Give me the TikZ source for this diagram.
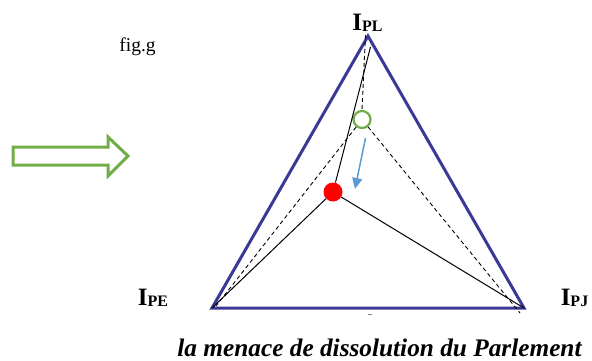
\documentclass[tikz,border=0pt]{standalone}
\usepackage{fontspec}
\setmainfont{Liberation Serif}
\usetikzlibrary{arrows.meta}
\definecolor{navy}{RGB}{58,58,150}
\definecolor{grn}{RGB}{112,173,71}
\definecolor{skyb}{RGB}{91,155,213}
\definecolor{rdot}{RGB}{255,0,0}
\tikzset{
  tri/.style={draw=navy,line width=3pt,line join=miter},
  dline/.style={draw=black,dashed,line width=0.9pt,dash pattern=on 4pt off 3pt},
  sline/.style={draw=black,line width=1pt},
  lbl/.style={anchor=base,inner sep=0pt,font=\fontsize{25}{27}\selectfont\bfseries},
}
\newcommand{\sub}[1]{\raisebox{-1.5pt}{\fontsize{16}{18}\selectfont #1}}
\begin{document}
\begin{tikzpicture}[x=1pt,y=-1pt]
\useasboundingbox (0,0) rectangle (592,360);
% corners
\coordinate (A) at (368,36);
\coordinate (B) at (212,308);
\coordinate (C) at (524,308);
\draw[tri] (A) -- (B) -- (C) -- cycle;
% inner construction
\node[circle,draw=grn,line width=2.2pt,minimum size=17pt,inner sep=0pt,fill=white] (g) at (362,119.5) {};
\coordinate (dtop) at (365.5,35);
\coordinate (dl) at (216,306);
\coordinate (dr) at (520,313);
\draw[dline] (dtop) -- (g.north);
\draw[dline] (g) -- (dl);
\draw[dline] (g) -- (dr);
\node[circle,fill=rdot,minimum size=19pt,inner sep=0pt] (r) at (333,192) {};
\coordinate (stop) at (370.5,47);
\draw[sline] (stop) -- (r);
\draw[sline] (r) -- (B);
\draw[sline] (r) -- (C);
% blue arrow
\coordinate (ba) at (365.5,138);
\coordinate (bb) at (355,189);
\draw[skyb,line width=1.5pt,-{Triangle[length=11pt,width=10pt]}] (ba) -- (bb);
% green hollow arrow
\draw[grn,line width=3pt,line join=miter] (13,147) -- (108,147) -- (108,137) -- (128,156) -- (108,176) -- (108,165) -- (13,165) -- cycle;
% tiny mark
\draw[gray,line width=0.8pt] (368,314) -- (372,314);
% labels
\node[lbl] (lpl) at (367.5,30) {I\sub{PL}};
\node[lbl] (lpe) at (153,305) {I\sub{PE}};
\node[lbl] (lpj) at (574.5,305) {I\sub{PJ}};
\node[anchor=base,inner sep=0pt,font=\fontsize{19.5}{21}\selectfont] (fig) at (137.5,51) {fig.g};
\node[anchor=base,inner sep=0pt,font=\fontsize{25.3}{27}\selectfont\bfseries\itshape] (cap) at (379.5,356) {la menace de dissolution du Parlement};
\end{tikzpicture}
\end{document}
